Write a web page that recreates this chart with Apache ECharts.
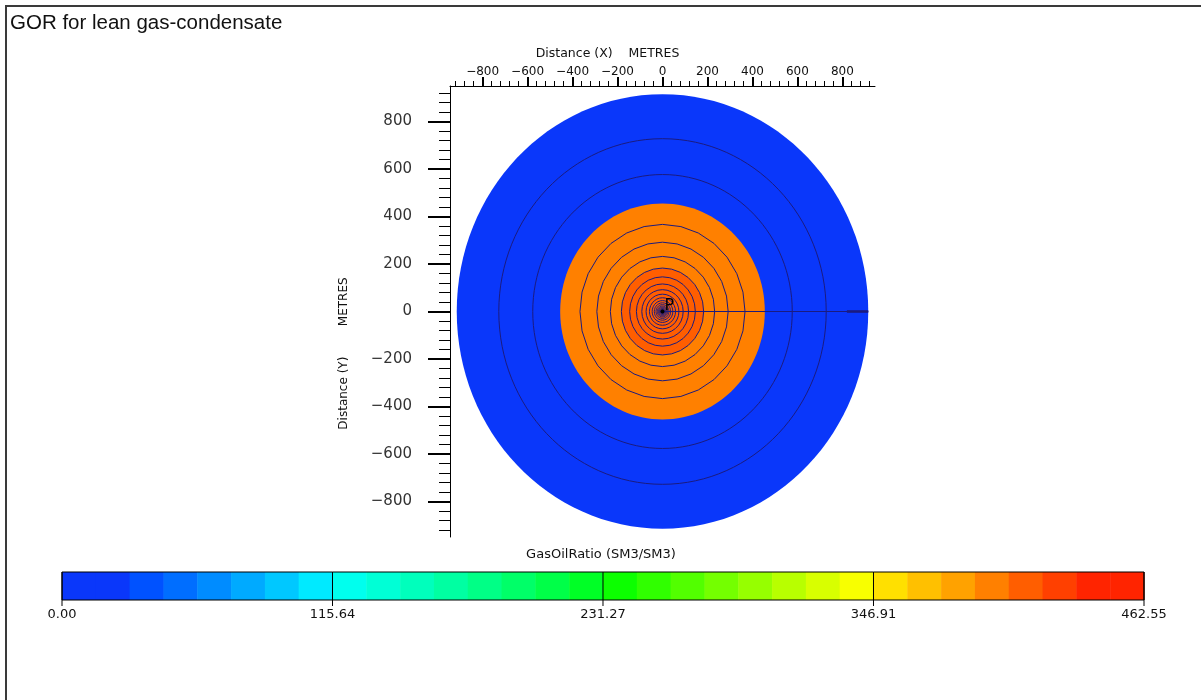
<!DOCTYPE html>
<html>
<head>
<meta charset="utf-8">
<script src="https://cdn.jsdelivr.net/npm/echarts@6/dist/echarts.min.js"></script>
<style>
  html, body { margin: 0; padding: 0; background: #ffffff; }
  #chart { width: 1201px; height: 700px; }
</style>
</head>
<body>
<div id="chart"></div>
<script>
// ---- GasOilRatio legend: range, labelled ticks and the 32 colour bins ----
const gorMin = 0;
const gorMax = 462.55;
const gorTicks = [0, 115.64, 231.27, 346.91, 462.55];
const binColors = [
  '#0a37fa', '#0a37fa', '#0052ff', '#006eff', '#008cff', '#00aaff', '#00c8ff', '#00eaff',
  '#00ffee', '#00ffd6', '#00ffbc', '#00ffa2', '#00ff86', '#00ff68', '#00ff48', '#00ff26',
  '#0cff00', '#30ff00', '#52ff00', '#74ff00', '#96ff00', '#b8ff00', '#d8ff00', '#f8ff00',
  '#ffe000', '#ffc000', '#ffa200', '#ff8000', '#ff5e00', '#ff4000', '#ff2400', '#ff2400'
];

// ---- Radial model around the producer (metres) ----
const zoneRadii = [915, 455, 183];     // outer edge of each coloured zone
const zoneGor = [8, 398, 412];         // GOR of each zone (SM3/SM3)
const gridRadii = [728, 577, 367, 292, 232, 183, 146, 116, 92, 73, 58, 46, 36.5, 29,
                   23, 18.3, 14.5, 11.5, 9.1, 7.3, 5.8, 4.6];
const seamSegments = [[0, 915], [820, 915]];   // grid seam along theta = 0
const wells = [{ name: 'P', x: 0, y: 0 }];

// ---- Axis ticks (metres) ----
const xMajorTicks = [-800, -600, -400, -200, 0, 200, 400, 600, 800];
const yMajorTicks = [-800, -600, -400, -200, 0, 200, 400, 600, 800];
const minorStep = 40;
const minorLimit = 920;
const minorTicks = [];
for (let v = -minorLimit; v <= minorLimit; v += minorStep) minorTicks.push(v);

function colorFor(v) {
  const n = binColors.length;
  const i = Math.max(0, Math.min(n - 1, Math.floor((v - gorMin) / (gorMax - gorMin) * n)));
  return binColors[i];
}

function signed(v) {
  return v < 0 ? '\u2212' + Math.abs(v) : String(v);
}

const lineNavy = '#1b1b7f';
const roundLimit = 400;     // rings wider than this are drawn as smooth ellipses
const facets = 28;

function ringShape(api, r) {
  const c = api.coord([0, 0]);
  if (r > roundLimit) {
    const px = api.coord([r, 0]);
    const py = api.coord([0, r]);
    return { type: 'ellipse', shape: { cx: c[0], cy: c[1], rx: px[0] - c[0], ry: c[1] - py[1] } };
  }
  const pts = [];
  for (let k = 0; k < facets; k++) {
    const a = 2 * Math.PI * k / facets;
    pts.push(api.coord([r * Math.cos(a), r * Math.sin(a)]));
  }
  return { type: 'polygon', shape: { points: pts } };
}

const axisFont = 'DejaVu Sans';
const chart = echarts.init(document.getElementById('chart'), null, { renderer: 'canvas' });

chart.setOption({
  animation: false,
  backgroundColor: '#ffffff',
  title: [
    {
      text: 'GOR for lean gas-condensate',
      left: 10, top: 13, padding: 0,
      textStyle: { fontFamily: 'Liberation Sans', fontSize: 20.5, fontWeight: 'normal', color: '#111111' }
    },
    {
      text: 'GasOilRatio (SM3/SM3)',
      left: 601, top: 548, padding: 0, textAlign: 'center',
      textStyle: { fontFamily: axisFont, fontSize: 13, fontWeight: 'normal', color: '#111111' }
    }
  ],
  graphic: [{
    type: 'polyline',
    shape: { points: [[6, 700], [6, 6], [1201, 6]] },
    style: { stroke: '#3a3a3a', lineWidth: 2, fill: null }
  }],
  grid: [
    { left: 450, top: 86, width: 425, height: 451 },
    { left: 62, top: 572, width: 1082, height: 28 }
  ],
  xAxis: [
    {
      gridIndex: 0, type: 'value', position: 'top', min: -945, max: 945,
      axisLine: { show: true, onZero: false, lineStyle: { color: '#000000', width: 1 } },
      axisTick: { show: true, length: 9, customValues: xMajorTicks, lineStyle: { color: '#000000', width: 2 } },
      axisLabel: {
        show: true, customValues: xMajorTicks, formatter: signed, margin: 8,
        fontFamily: axisFont, fontSize: 12, color: '#111111'
      },
      splitLine: { show: false },
      name: 'Distance (X)    METRES', nameLocation: 'middle', nameGap: 26,
      nameTextStyle: { fontFamily: axisFont, fontSize: 12.5, color: '#111111', padding: [0, 110, 0, 0] }
    },
    {
      gridIndex: 0, type: 'value', position: 'top', min: -945, max: 945,
      axisLine: { show: false, onZero: false },
      axisTick: { show: true, length: 5, customValues: minorTicks, lineStyle: { color: '#000000', width: 1 } },
      axisLabel: { show: false },
      splitLine: { show: false }
    },
    {
      gridIndex: 1, type: 'value', position: 'bottom', min: gorMin, max: gorMax,
      axisLine: { show: false },
      axisTick: { show: false },
      axisLabel: {
        show: true, customValues: gorTicks, formatter: v => v.toFixed(2), margin: 8,
        fontFamily: axisFont, fontSize: 13, color: '#111111'
      },
      splitLine: { show: false }
    }
  ],
  yAxis: [
    {
      gridIndex: 0, type: 'value', position: 'left', min: -950, max: 950,
      axisLine: { show: true, onZero: false, lineStyle: { color: '#000000', width: 1 } },
      axisTick: { show: true, length: 22, customValues: yMajorTicks, lineStyle: { color: '#000000', width: 2 } },
      axisLabel: {
        show: true, customValues: yMajorTicks, formatter: signed, margin: 38,
        fontFamily: axisFont, fontSize: 15, color: '#333333'
      },
      splitLine: { show: false },
      name: 'Distance (Y)        METRES', nameLocation: 'middle', nameGap: 100, nameRotate: 90,
      nameTextStyle: { fontFamily: axisFont, fontSize: 12, color: '#111111', padding: [0, 84, 0, 0] }
    },
    {
      gridIndex: 0, type: 'value', position: 'left', min: -950, max: 950,
      axisLine: { show: false, onZero: false },
      axisTick: { show: true, length: 11, customValues: minorTicks, lineStyle: { color: '#000000', width: 1 } },
      axisLabel: { show: false },
      splitLine: { show: false }
    },
    {
      gridIndex: 1, type: 'value', min: 0, max: 1, show: false
    }
  ],
  series: [
    {
      // coloured GOR zones, largest first
      type: 'custom', xAxisIndex: 0, yAxisIndex: 0, clip: false, silent: true,
      data: zoneRadii.map((r, i) => [r, zoneGor[i]]),
      renderItem: function (params, api) {
        const el = ringShape(api, api.value(0));
        el.style = { fill: colorFor(api.value(1)), stroke: null };
        return el;
      }
    },
    {
      // radial grid lines
      type: 'custom', xAxisIndex: 0, yAxisIndex: 0, clip: false, silent: true,
      data: gridRadii.map(r => [r, 0]),
      renderItem: function (params, api) {
        const el = ringShape(api, api.value(0));
        el.style = { fill: null, stroke: lineNavy, lineWidth: 1 };
        return el;
      }
    },
    {
      // seam of the radial grid
      type: 'custom', xAxisIndex: 0, yAxisIndex: 0, clip: false, silent: true,
      data: seamSegments.map(s => [s[0], s[1]]),
      renderItem: function (params, api) {
        const a = api.coord([api.value(0), 0]);
        const b = api.coord([api.value(1), 0]);
        return {
          type: 'line',
          shape: { x1: a[0], y1: a[1], x2: b[0], y2: b[1] },
          style: { stroke: lineNavy, lineWidth: params.dataIndex === 0 ? 1.2 : 2.6 }
        };
      }
    },
    {
      // producer well
      type: 'custom', xAxisIndex: 0, yAxisIndex: 0, clip: false, silent: true,
      data: wells.map(w => [w.x, w.y, w.name]),
      renderItem: function (params, api) {
        const c = api.coord([api.value(0), api.value(1)]);
        return {
          type: 'group',
          children: [
            { type: 'circle', shape: { cx: c[0], cy: c[1], r: 2 }, style: { fill: '#000000' } },
            {
              type: 'text',
              style: {
                text: wells[params.dataIndex].name, x: c[0] + 2, y: c[1] + 2,
                verticalAlign: 'bottom', align: 'left',
                font: '16px "DejaVu Sans"', fill: '#000000'
              }
            }
          ]
        };
      }
    },
    {
      // legend colour bins
      type: 'custom', xAxisIndex: 2, yAxisIndex: 2, clip: false, silent: true,
      data: binColors.map((c, i) => [i]),
      renderItem: function (params, api) {
        const n = binColors.length;
        const i = api.value(0);
        const w = (gorMax - gorMin) / n;
        const p0 = api.coord([gorMin + i * w, 1]);
        const p1 = api.coord([gorMin + (i + 1) * w, 0]);
        return {
          type: 'rect',
          shape: { x: p0[0], y: p0[1], width: p1[0] - p0[0] + 0.5, height: p1[1] - p0[1] },
          style: { fill: binColors[i] }
        };
      }
    },
    {
      // legend frame and tick marks
      type: 'custom', xAxisIndex: 2, yAxisIndex: 2, clip: false, silent: true,
      data: gorTicks.map(v => [v]),
      renderItem: function (params, api) {
        const v = api.value(0);
        const top = api.coord([v, 1]);
        const bot = api.coord([v, 0]);
        const children = [{
          type: 'line',
          shape: { x1: top[0], y1: top[1], x2: bot[0], y2: bot[1] + 6 },
          style: { stroke: '#000000', lineWidth: 1 }
        }];
        if (params.dataIndex === 0) {
          const a = api.coord([gorMin, 1]);
          const b = api.coord([gorMax, 0]);
          children.push({
            type: 'rect',
            shape: { x: a[0], y: a[1], width: b[0] - a[0], height: b[1] - a[1] },
            style: { fill: null, stroke: '#000000', lineWidth: 1 }
          });
        }
        return { type: 'group', children: children };
      }
    }
  ]
});
</script>
</body>
</html>
